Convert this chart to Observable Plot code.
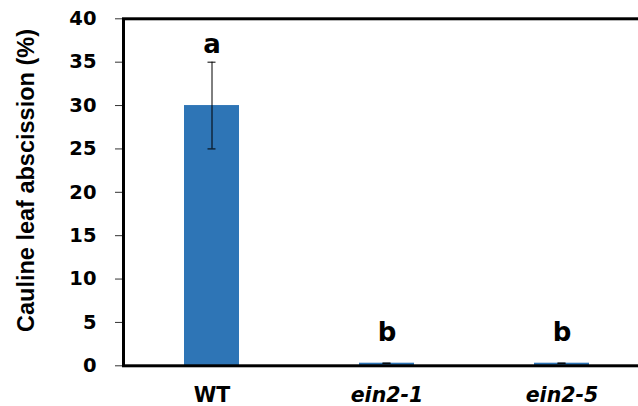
<!DOCTYPE html>
<html>
<head>
<meta charset="utf-8">
<script src="https://cdn.jsdelivr.net/npm/d3@7"></script>
<script src="https://cdn.jsdelivr.net/npm/@observablehq/plot@0.6"></script>
<style>
  html, body { margin: 0; padding: 0; background: white; overflow: hidden; }
  #chart svg { display: block; }
</style>
</head>
<body>
<div id="chart"></div>
<script>
const genotypes = ["WT", "ein2-1", "ein2-5"];
const abscission = [30, 0.3, 0.3];
const errors = [5, 0, 0];
const letters = ["a", "b", "b"];
const letterY = [36.1, 2.9];
const yTicks = [0, 5, 10, 15, 20, 25, 30, 35, 40];
const yTitle = "Cauline leaf abscission (%)";

const rows = genotypes.map((g, i) => ({
  g, v: abscission[i], e: errors[i], letter: letters[i],
  ly: i === 0 ? letterY[0] : letterY[1]
}));

const blue = "#2E75B6";
const tickFont = "DejaVu Sans, sans-serif";

const chart = Plot.plot({
  width: 638,
  height: 406,
  marginTop: 18.3,
  marginBottom: 40.7,
  marginLeft: 123,
  marginRight: -11.5,
  style: { background: "white", overflow: "hidden" },
  x: { domain: genotypes, paddingInner: 0.687, paddingOuter: 0.3435 },
  y: { domain: [0, 40], range: [365.3, 18.3] },
  marks: [
    Plot.barY(rows, { x: "g", y: "v", fill: blue }),
    Plot.ruleX(rows, { x: "g", y1: d => d.v - d.e, y2: d => d.v + d.e, stroke: "black", strokeWidth: 1 }),
    Plot.tickY(rows, { x: "g", y: d => d.v + d.e, stroke: "black", strokeWidth: 1, insetLeft: 23.5, insetRight: 23.5 }),
    Plot.tickY(rows, { x: "g", y: d => d.v - d.e, stroke: "black", strokeWidth: 1, insetLeft: 23.5, insetRight: 23.5 }),
    Plot.text(rows, { x: "g", y: "ly", text: "letter", lineAnchor: "bottom", fontFamily: tickFont, fontWeight: "bold", fontSize: 26, fill: "black" }),
    Plot.axisY(yTicks, { tickSize: 8, tickPadding: 19, fontFamily: tickFont, fontWeight: "bold", fontSize: 19.5, fill: "black", stroke: "#333", label: null }),
    Plot.frame({ stroke: "black", strokeWidth: 3 }),
    Plot.axisX(["WT"], { tickSize: 0, tickPadding: 22, fontFamily: tickFont, fontWeight: "bold", fontSize: 20.5, fill: "black", label: null }),
    Plot.axisX(["ein2-1", "ein2-5"], { tickSize: 0, tickPadding: 22, fontFamily: tickFont, fontWeight: "bold", fontStyle: "italic", fontSize: 20.5, fill: "black", label: null }),
    Plot.text([yTitle], { text: d => d, frameAnchor: "left", dx: -90, dy: -11.8, rotate: -90, textAnchor: "middle", lineAnchor: "bottom", fontFamily: "Liberation Sans, Arial, sans-serif", fontWeight: "bold", fontSize: 23.5, fill: "black" })
  ]
});
document.getElementById("chart").appendChild(chart);
</script>
</body>
</html>
